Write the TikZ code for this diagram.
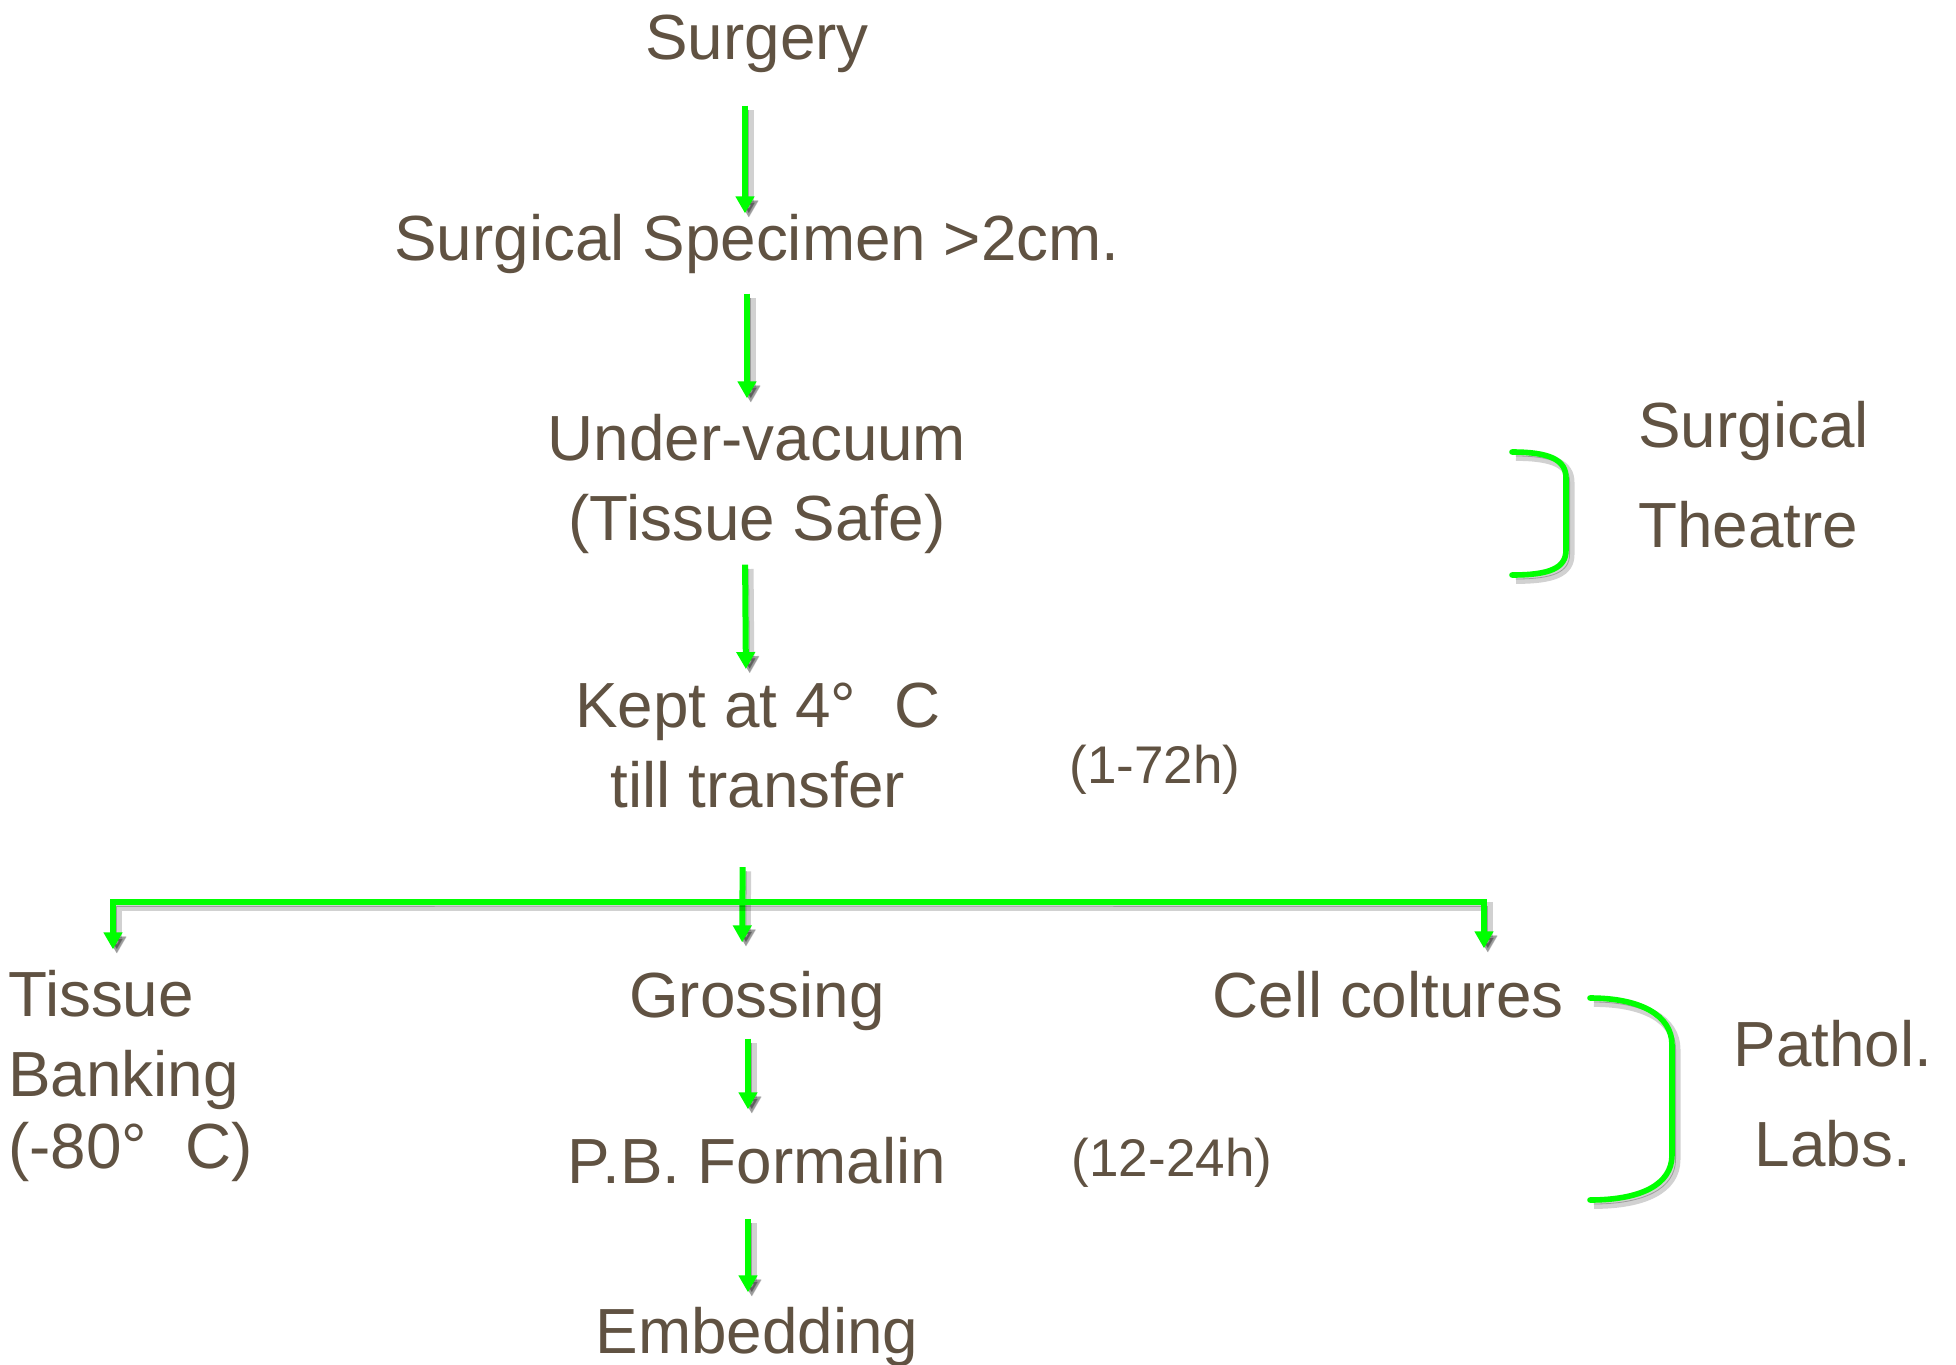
\documentclass[tikz,border=0pt]{standalone}
\usepackage{fontspec}
\setmainfont{Liberation Sans}
\usetikzlibrary{arrows.meta}
\definecolor{txtbrown}{RGB}{96,82,66}
\definecolor{flowgreen}{RGB}{0,255,0}
\tikzset{
    >={Triangle[length=8.5pt, width=9pt]},
    steptext/.style={text=txtbrown, inner sep=0pt, anchor=base, font=\fontsize{31.9pt}{40pt}\selectfont},
    sidetext/.style={steptext, font=\fontsize{31.9pt}{50pt}\selectfont},
    timetext/.style={text=txtbrown, inner sep=0pt, anchor=base, font=\fontsize{26.5pt}{32pt}\selectfont},
    dropline/.style={preaction={draw=black, opacity=0.18, line width=4.5pt, transform canvas={shift={(2pt,-2.2pt)}}},
                     preaction={draw=black, opacity=0.25, transform canvas={shift={(1.8pt,-2pt)}}}},
    flowarrow/.style={->, draw=flowgreen, line width=3pt, dropline},
    bracketline/.style={draw=flowgreen, line width=2.8pt, line cap=round, dropline},
}
\begin{document}
\begin{tikzpicture}[x=0.5pt, y=-0.5pt]
\fill[white] (0,0) rectangle (1956,1365);
\useasboundingbox (0,0) rectangle (1956,1365);

% Surgical theatre steps
\node[steptext] (surg) at (757,60) {Surgery};
\node[steptext] (spec) at (757,260) {Surgical Specimen >2cm.};
\node[steptext, align=center] (vac) at (757,540) {Under-vacuum\\(Tissue Safe)};
\node[steptext, align=center] (kept) at (758,807) {Kept at 4°\hspace{0.6em}C\\till transfer};
\node[timetext] (t1) at (1155,783) {(1-72h)};

% Lab branches
\node[steptext, align=left, anchor=base west] (bank) at (8,1168) {Tissue\\Banking\\[-4pt](-80°\hspace{0.6em}C)};
\node[steptext] (gross) at (757,1017) {Grossing};
\node[steptext] (cell) at (1388,1017) {Cell coltures};
\node[steptext] (form) at (757,1183) {P.B. Formalin};
\node[timetext] (t2) at (1172,1176) {(12-24h)};
\node[steptext] (emb) at (757,1353) {Embedding};

% Side labels
\node[sidetext, align=left, anchor=base west] (theatre) at (1638,547) {Surgical\\Theatre};
\node[sidetext, align=center] (labs) at (1833,1166) {Pathol.\\Labs.};

% Arrows
\draw[flowarrow, shorten <=16pt] ([xshift=-6pt]surg.south) -- ([xshift=-6pt]spec.north);
\draw[flowarrow, shorten <=10pt, shorten >=7.5pt] ([xshift=-5pt]spec.south) -- ([xshift=-5pt]vac.north);
\draw[flowarrow, shorten <=5.5pt, shorten >=6.5pt] ([xshift=-6pt]vac.south) -- ([xshift=-6pt]kept.north);
\coordinate (split) at (743,902);
\draw[flowarrow, shorten <=29.5pt, shorten >=14pt] ([xshift=-7.5pt]kept.south) -- ([xshift=-7.5pt]gross.north);
\draw[flowarrow, <->, shorten <=10pt, shorten >=11pt] ([xshift=52.5pt]bank.north west) |- (split) -| ([xshift=48pt]cell.north);
\draw[flowarrow, shorten <=4pt, shorten >=13.5pt] ([xshift=-4.5pt]gross.south) -- ([xshift=-4.5pt]form.north);
\draw[flowarrow, shorten <=17.5pt, shorten >=7pt] ([xshift=-4.5pt]form.south) -- ([xshift=-4.5pt]emb.north);

% Brackets
\draw[bracketline] (1512,452) .. controls (1550,452) and (1566,460) .. (1566,478) -- (1566,550) .. controls (1566,568) and (1550,575) .. (1512,575);
\draw[bracketline] (1590,998) .. controls (1640,998) and (1672,1015) .. (1672,1045) -- (1672,1155) .. controls (1672,1185) and (1640,1200) .. (1590,1200);
\end{tikzpicture}
\end{document}
